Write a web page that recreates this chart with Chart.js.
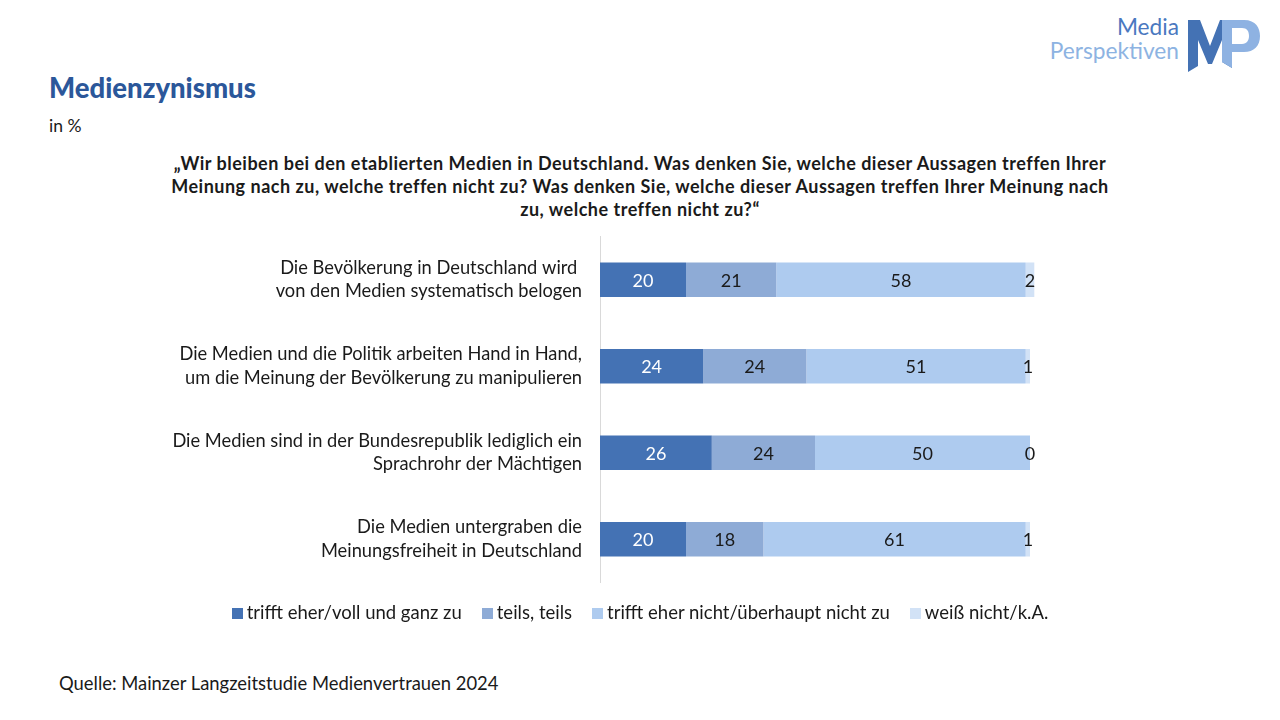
<!DOCTYPE html>
<html>
<head>
<meta charset="utf-8">
<script src="https://cdn.jsdelivr.net/npm/chart.js@4"></script>
<style>
  body { margin: 0; width: 1280px; height: 720px; background: #fff; font-family: Lato, "Open Sans", sans-serif; color: #1a1a1a; position: relative; overflow: hidden; }
  #title { position: absolute; left: 49px; top: 71px; font-size: 27.5px; font-weight: 900; color: #2b579a; }
  #unit { position: absolute; left: 49px; top: 115px; font-size: 17.5px; }
  #question { position: absolute; left: 90px; width: 1100px; top: 152px; text-align: center; font-size: 18px; letter-spacing: 0.5px; font-weight: bold; line-height: 23px; }
  #chartBox { position: absolute; left: 0; top: 203px; width: 1280px; height: 413px; }
  #legend { position: absolute; left: 0; width: 1280px; top: 601px; text-align: center; font-size: 18.5px; }
  #legend span.item { display: inline-block; margin: 0 10px; }
  #legend span.box { display: inline-block; width: 11px; height: 11px; margin-right: 4px; }
  #source { position: absolute; left: 59px; top: 672px; font-size: 18.4px; }
  #logoText { position: absolute; right: 101px; top: 15px; text-align: right; font-size: 22.7px; line-height: 24px; }
</style>
</head>
<body>
<div id="title">Medienzynismus</div>
<div id="unit">in %</div>
<div id="question">„Wir bleiben bei den etablierten Medien in Deutschland. Was denken Sie, welche dieser Aussagen treffen Ihrer<br>Meinung nach zu, welche treffen nicht zu? Was denken Sie, welche dieser Aussagen treffen Ihrer Meinung nach<br>zu, welche treffen nicht zu?“</div>
<div id="logoText"><span style="color:#4a78c0">Media</span><br><span style="color:#8db3e2">Perspektiven</span></div>
<svg style="position:absolute;left:1186px;top:16px" width="78" height="60">
  <polygon points="2,4 14,4 24,30 34,4 46,4 46,52 36,46 36,24 26,48 22,48 12,24 12,50 2,56" fill="#4472b4"/>
  <path d="M36,4 L58,4 C70,4 74,12 74,20 C74,30 68,36 58,36 L46,36 L46,52 L36,46 Z M46,12 L46,28 L56,28 C61,28 63,24 63,20 C63,15 61,12 56,12 Z" fill="#8eb2e2" fill-rule="evenodd"/>
</svg>
<div id="chartBox"><canvas id="chart"></canvas></div>
<div id="legend"></div>
<div id="source">Quelle: Mainzer Langzeitstudie Medienvertrauen 2024</div>
<script>
// categories (two-line labels as shown on the y axis)
const categories = [
    ["Die Bevölkerung in Deutschland wird ", "von den Medien systematisch belogen"],
    ["Die Medien und die Politik arbeiten Hand in Hand,", "um die Meinung der Bevölkerung zu manipulieren"],
    ["Die Medien sind in der Bundesrepublik lediglich ein", "Sprachrohr der Mächtigen"],
    ["Die Medien untergraben die", "Meinungsfreiheit in Deutschland"]
];
const seriesNames = ["trifft eher/voll und ganz zu", "teils, teils", "trifft eher nicht/überhaupt nicht zu", "weiß nicht/k.A."];
const trifftZu = [20, 24, 26, 20];
const teilsTeils = [21, 24, 24, 18];
const trifftNicht = [58, 51, 50, 61];
const weissNicht = [2, 1, 0, 1];

const colors = ["#4472b4", "#8eabd6", "#aecbef", "#d2e2f6"];
const labelColors = ["#ffffff", "#1a1a1a", "#1a1a1a", "#1a1a1a"];
const values = [trifftZu, teilsTeils, trifftNicht, weissNicht];

// simple value labels in the middle of every segment
const valueLabels = {
    id: "valueLabels",
    afterDatasetsDraw(chart) {
        const ctx = chart.ctx;
        ctx.save();
        ctx.font = "18px Lato, sans-serif";
        ctx.textAlign = "center";
        ctx.textBaseline = "middle";
        chart.data.datasets.forEach((ds, i) => {
            chart.getDatasetMeta(i).data.forEach((bar, j) => {
                ctx.fillStyle = labelColors[i];
                ctx.fillText(ds.data[j], (bar.x + bar.base) / 2, bar.y + 1);
            });
        });
        ctx.restore();
    }
};

const ctx = document.getElementById("chart").getContext("2d");
const chart = new Chart(ctx, {
    type: "bar",
    data: {
        labels: categories,
        datasets: values.map((v, i) => ({
            label: seriesNames[i],
            data: v,
            backgroundColor: colors[i],
            barPercentage: 0.4,
            categoryPercentage: 1.0
        }))
    },
    options: {
        indexAxis: "y",
        responsive: true,
        maintainAspectRatio: false,
        animation: false,
        layout: { padding: { right: 164 } },
        plugins: {
            legend: { display: false },
            tooltip: { enabled: false }
        },
        scales: {
            x: { stacked: true, min: 0, max: 120, display: false },
            y: {
                stacked: true,
                grid: { display: false },
                border: { color: "#d9d9d9" },
                ticks: { color: "#1a1a1a", font: { family: "Lato", size: 18.3, lineHeight: 1.28 }, padding: 10 },
                afterFit(scale) { scale.width = 600; }
            }
        }
    },
    plugins: [valueLabels]
});

// legend built from the chart's datasets
document.getElementById("legend").innerHTML = chart.data.datasets.map(ds =>
    `<span class="item"><span class="box" style="background:${ds.backgroundColor}"></span>${ds.label}</span>`
).join("");
</script>
</body>
</html>
